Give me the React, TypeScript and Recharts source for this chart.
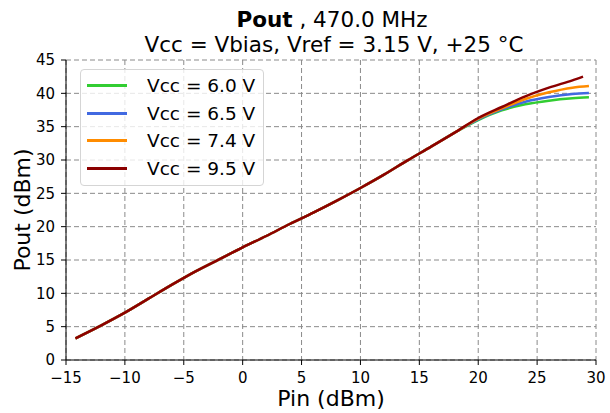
import { LineChart, Line, XAxis, YAxis, CartesianGrid, Legend } from 'recharts'

// Pin (dBm) / Pout (dBm)
const pinCommon = [-14.2, -12, -10, -8, -6, -4, -2, 0, 2, 4, 6, 8, 10, 12, 14, 16, 18]
const poutCommon = [3.25, 5.2, 7.1, 9.2, 11.3, 13.3, 15.1, 16.9, 18.6, 20.4, 22.1, 23.9, 25.8, 27.8, 29.95, 32.0, 34.1]

const pinTail = [20, 22, 24, 26, 28, 29.4]
const pinTailRed = [20, 22, 24, 26, 28, 28.9]

const pout60 = [36.0, 37.45, 38.35, 38.9, 39.25, 39.4]
const pout65 = [36.1, 37.6, 38.75, 39.45, 39.9, 40.05]
const pout74 = [36.2, 37.75, 39.15, 40.15, 40.85, 41.1]
const pout95 = [36.3, 37.95, 39.55, 40.85, 41.95, 42.5]

const xTicks = [-15, -10, -5, 0, 5, 10, 15, 20, 25, 30]
const yTicks = [0, 5, 10, 15, 20, 25, 30, 35, 40, 45]

const FONT = '"DejaVu Sans", sans-serif'

const build = (tailX: number[], tailY: number[]) =>
  pinCommon.map((x, i) => ({ x, y: poutCommon[i] })).concat(tailX.map((x, i) => ({ x, y: tailY[i] })))

const series = [
  { name: 'Vcc = 6.0 V', color: '#32cd32', data: build(pinTail, pout60) },
  { name: 'Vcc = 6.5 V', color: '#4169e1', data: build(pinTail, pout65) },
  { name: 'Vcc = 7.4 V', color: '#ff8c00', data: build(pinTail, pout74) },
  { name: 'Vcc = 9.5 V', color: '#8b0000', data: build(pinTailRed, pout95) },
]

const fmt = (v: number) => (v < 0 ? '\u2212' + Math.abs(v) : String(v))

const LegendBox = () => (
  <div
    style={{
      width: 184,
      height: 117,
      boxSizing: 'border-box',
      paddingTop: 1.5,
      border: '1px solid #d5d5d5',
      borderRadius: 4,
      background: 'rgba(255,255,255,0.8)',
      fontFamily: FONT,
      fontSize: 18.5,
      color: '#000',
    }}
  >
    {series.map((s) => (
      <div key={s.name} style={{ height: 27.8, display: 'flex', alignItems: 'center' }}>
        <div style={{ marginLeft: 6, width: 40, height: 3, background: s.color }} />
        <span style={{ marginLeft: 20, whiteSpace: 'pre' }}>{s.name}</span>
      </div>
    ))}
  </div>
)

export default function App() {
  return (
    <div style={{ position: 'absolute', left: 0, top: 0, width: 610, height: 413, background: '#fff' }}>
      <svg width={610} height={60} style={{ position: 'absolute', left: 0, top: 0 }}>
        <text x={332} y={26.7} textAnchor="middle" fontFamily={FONT} fontSize={21.5} fill="#000">
          <tspan fontWeight="bold">Pout</tspan>
          <tspan> , 470.0 MHz</tspan>
        </text>
        <text x={334} y={51.7} textAnchor="middle" fontFamily={FONT} fontSize={21.5} fill="#000">
          Vcc = Vbias, Vref = 3.15 V, +25 °C
        </text>
      </svg>
      <LineChart width={610} height={413} margin={{ top: 60, right: 14, left: 6, bottom: 0 }}>
        <CartesianGrid stroke="#8a8a8a" strokeDasharray="5 3" />
        <XAxis
          dataKey="x"
          type="number"
          domain={[-15, 30]}
          ticks={xTicks}
          interval={0}
          tickFormatter={fmt}
          height={53}
          stroke="#000"
          tickSize={5}
          tickMargin={7}
          tick={{ fill: '#000', fontSize: 15, fontFamily: FONT }}
          allowDataOverflow
          label={{ value: 'Pin (dBm)', position: 'insideBottom', offset: 7, fill: '#000', fontSize: 22, fontFamily: FONT }}
        />
        <XAxis xAxisId="top" orientation="top" type="number" domain={[-15, 30]} height={0} tick={false} tickLine={false} stroke="#000" />
        <YAxis
          type="number"
          domain={[0, 45]}
          ticks={yTicks}
          interval={0}
          width={60}
          stroke="#000"
          tickSize={5}
          tickMargin={6}
          tick={{ fill: '#000', fontSize: 15, fontFamily: FONT }}
          label={{ value: 'Pout (dBm)', angle: -90, position: 'insideLeft', offset: 16, fill: '#000', fontSize: 22, fontFamily: FONT, style: { textAnchor: 'middle' } }}
        />
        <YAxis yAxisId="right" orientation="right" type="number" domain={[0, 45]} width={0} tick={false} tickLine={false} stroke="#000" />
        <Legend
          layout="vertical"
          align="center"
          verticalAlign="middle"
          content={<LegendBox />}
          wrapperStyle={{ position: 'absolute', left: 80, top: 69, width: 184, height: 117 }}
        />
        {series.map((s) => (
          <Line
            key={s.name}
            data={s.data}
            dataKey="y"
            name={s.name}
            type="monotone"
            stroke={s.color}
            strokeWidth={2.5}
            dot={false}
            isAnimationActive={false}
          />
        ))}
      </LineChart>
    </div>
  )
}
